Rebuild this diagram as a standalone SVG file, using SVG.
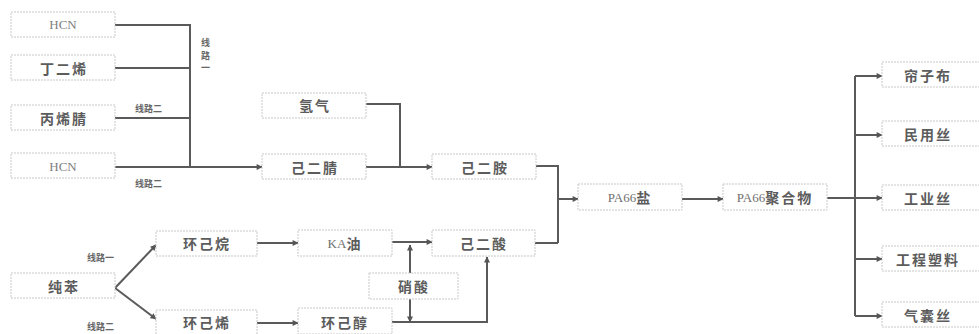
<svg xmlns="http://www.w3.org/2000/svg" width="979" height="334" viewBox="0 0 979 334">
<defs>
<style>
.box{fill:#fff;stroke:#c8c8c8;stroke-width:1;stroke-dasharray:2 1}
.t{font-family:"Noto Sans CJK SC","Noto Sans",sans-serif;font-size:14px;font-weight:bold;fill:#5c5c5c;text-anchor:middle;dominant-baseline:central;letter-spacing:2px}
.s{font-family:"Liberation Serif",serif;font-size:13px;fill:#808080;text-anchor:middle;dominant-baseline:central}
.ser{font-family:"Liberation Serif",serif;font-size:13px;font-weight:normal;fill:#707070;letter-spacing:0}
.lb{font-family:"Noto Sans CJK SC",sans-serif;font-size:9px;font-weight:bold;fill:#666;dominant-baseline:central}
.ln{fill:none;stroke:#5a5a5a;stroke-width:2}
</style>
<marker id="ah" viewBox="0 0 10 10" refX="9" refY="5" markerWidth="7" markerHeight="6" markerUnits="userSpaceOnUse" orient="auto"><path d="M0,0 L10,5 L0,10 z" fill="#555"/></marker>
</defs>
<rect width="979" height="334" fill="#fff"/>
<g id="connectors">
<path class="ln" d="M115,25 H190 V167 M115,68 H190 M115,118 H190 M115,167 H190"/>
<path class="ln" d="M190,167 H262" marker-end="url(#ah)"/>
<path class="ln" d="M366,104 H400 V167 M366,167 H400"/>
<path class="ln" d="M400,167 H432" marker-end="url(#ah)"/>
<path class="ln" d="M536,166 H558 V243 M535,243 H558"/>
<path class="ln" d="M558,199 H578" marker-end="url(#ah)"/>
<path class="ln" d="M682,199 H723" marker-end="url(#ah)"/>
<path class="ln" d="M827,198 H855 M855,76 V316"/>
<path class="ln" d="M855,76 H882" marker-end="url(#ah)"/>
<path class="ln" d="M855,135 H882" marker-end="url(#ah)"/>
<path class="ln" d="M855,198 H882" marker-end="url(#ah)"/>
<path class="ln" d="M855,259 H882" marker-end="url(#ah)"/>
<path class="ln" d="M855,316 H882" marker-end="url(#ah)"/>
<path class="ln" d="M115,288 L156,245" marker-end="url(#ah)"/>
<path class="ln" d="M115,288 L156,319" marker-end="url(#ah)"/>
<path class="ln" d="M257,243 H298" marker-end="url(#ah)"/>
<path class="ln" d="M257,323 H298" marker-end="url(#ah)"/>
<path class="ln" d="M392,242 H432" marker-end="url(#ah)"/>
<path class="ln" d="M410,273 V245" marker-end="url(#ah)"/>
<path class="ln" d="M410,299 V322" marker-end="url(#ah)"/>
<path class="ln" d="M392,322 H487 V257" marker-end="url(#ah)"/>
</g>
<g id="labels">
<text class="lb" x="201" y="42">线</text>
<text class="lb" x="201" y="55">路</text>
<text class="lb" x="201" y="67">一</text>
<text class="lb" x="135" y="108">线路二</text>
<text class="lb" x="135" y="183">线路二</text>
<text class="lb" x="87" y="257">线路一</text>
<text class="lb" x="87" y="326">线路二</text>
</g>
<g id="hcn1"><rect class="box" x="11" y="12" width="104" height="25"/><text class="s" x="63" y="24">HCN</text></g>
<g id="butadiene"><rect class="box" x="11" y="55" width="104" height="25"/><text class="t" x="64" y="68">丁二烯</text></g>
<g id="acrylonitrile"><rect class="box" x="11" y="105" width="104" height="25"/><text class="t" x="64" y="118">丙烯腈</text></g>
<g id="hcn2"><rect class="box" x="11" y="153" width="104" height="25"/><text class="s" x="63" y="166">HCN</text></g>
<g id="hydrogen"><rect class="box" x="262" y="93" width="104" height="25"/><text class="t" x="315" y="105">氢气</text></g>
<g id="adiponitrile"><rect class="box" x="262" y="154" width="104" height="25"/><text class="t" x="315" y="167">己二腈</text></g>
<g id="hexanediamine"><rect class="box" x="432" y="154" width="104" height="25"/><text class="t" x="485" y="167">己二胺</text></g>
<g id="adipic"><rect class="box" x="432" y="230" width="103" height="26"/><text class="t" x="484" y="243">己二酸</text></g>
<g id="pa66salt"><rect class="box" x="578" y="184" width="104" height="26"/><text class="t" x="630" y="197"><tspan class="ser">PA66</tspan>盐</text></g>
<g id="pa66polymer"><rect class="box" x="723" y="184" width="104" height="26"/><text class="t" x="775" y="197" letter-spacing="1"><tspan class="ser">PA66</tspan>聚合物</text></g>
<g id="benzene"><rect class="box" x="11" y="273" width="104" height="25"/><text class="t" x="64" y="286">纯苯</text></g>
<g id="cyclohexane"><rect class="box" x="156" y="231" width="101" height="25"/><text class="t" x="207" y="243">环己烷</text></g>
<g id="cyclohexene"><rect class="box" x="156" y="310" width="101" height="25"/><text class="t" x="207" y="322">环己烯</text></g>
<g id="kaoil"><rect class="box" x="298" y="230" width="94" height="26"/><text class="t" x="345" y="243" letter-spacing="0"><tspan class="ser">KA</tspan>油</text></g>
<g id="nitric"><rect class="box" x="369" y="273" width="89" height="26"/><text class="t" x="414" y="286">硝酸</text></g>
<g id="cyclohexanol"><rect class="box" x="298" y="308" width="94" height="26"/><text class="t" x="345" y="322">环己醇</text></g>
<g id="cord"><rect class="box" x="882" y="62" width="104" height="25"/><text class="t" x="928" y="75">帘子布</text></g>
<g id="civil"><rect class="box" x="882" y="121" width="104" height="25"/><text class="t" x="928" y="134">民用丝</text></g>
<g id="industrial"><rect class="box" x="882" y="185" width="104" height="25"/><text class="t" x="928" y="198">工业丝</text></g>
<g id="plastics"><rect class="box" x="882" y="246" width="104" height="25"/><text class="t" x="928" y="259">工程塑料</text></g>
<g id="airbag"><rect class="box" x="882" y="302" width="104" height="25"/><text class="t" x="928" y="315">气囊丝</text></g>
</svg>
